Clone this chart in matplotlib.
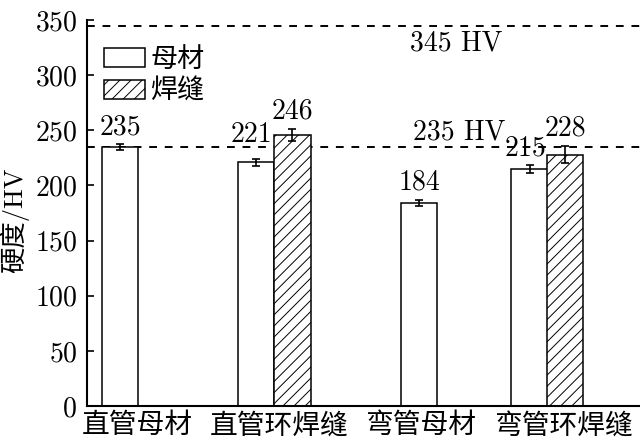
import numpy as np
import matplotlib
matplotlib.use('Agg')
import matplotlib.pyplot as plt

plt.rcParams['font.family'] = ['cmr10', 'Noto Sans CJK SC']
plt.rcParams['axes.formatter.use_mathtext'] = True
plt.rcParams['hatch.linewidth'] = 0.7

# data
categories = ['直管母材', '直管环焊缝', '弯管母材', '弯管环焊缝']
base_vals = [235, 221, 184, 215]
base_err = [2.5, 3, 2.5, 3.5]
weld_cats = ['直管环焊缝', '弯管环焊缝']
weld_vals = [246, 228]
weld_err = [5.5, 8]
ref_vals = [345, 235]
ref_labels = ['345 HV', '235 HV']

# layout: tick labels sit at 0..3, the bars in the original are placed by hand
base_x = [-0.12, 0.838, 1.986, 2.764]
weld_x = [1.095, 3.014]
w = 0.254
base_lbl_off = [(0, 14), (-3, 19.5), (0, 15), (-3, 15)]
weld_lbl_off = [(0, 16.5), (0, 19)]
ref_txt_pos = [(2.246, 329), (2.27, 248.5)]

fig = plt.figure(figsize=(6.4, 4.47), dpi=100)
ax = fig.add_axes([87/640, 41/447, 553/640, 386/447])

ax.bar(base_x, base_vals, w, color='white', edgecolor='black', lw=1.1,
       label='母材', zorder=2)
ax.bar(weld_x, weld_vals, w, color='white', edgecolor='black', lw=1.1,
       hatch='///', label='焊缝', zorder=2)
ax.errorbar(base_x, base_vals, yerr=base_err, fmt='none', ecolor='black',
            elinewidth=1.2, capsize=3, capthick=1.2, zorder=3)
ax.errorbar(weld_x, weld_vals, yerr=weld_err, fmt='none', ecolor='black',
            elinewidth=1.2, capsize=3, capthick=1.2, zorder=3)

for x, v, off in zip(base_x, base_vals, base_lbl_off):
    ax.annotate(str(v), (x, v), xytext=off, textcoords='offset points',
                ha='center', va='center', fontsize=20)
for x, v, off in zip(weld_x, weld_vals, weld_lbl_off):
    ax.annotate(str(v), (x, v), xytext=off, textcoords='offset points',
                ha='center', va='center', fontsize=20)

for v, t, (tx, ty) in zip(ref_vals, ref_labels, ref_txt_pos):
    ax.axhline(v, color='black', lw=1.4, ls=(0, (4, 4)), zorder=1)
    ax.text(tx, ty, t, ha='center', va='center', fontsize=20)

ax.set_xlim(-0.352, 3.542)
ax.set_ylim(0, 350)
ax.set_xticks(range(len(categories)))
ax.set_xticklabels(categories, fontsize=20)
ax.set_yticks(np.arange(0, 351, 50))
ax.tick_params(axis='y', direction='in', length=5, width=1.2, labelsize=20, pad=7)
ax.tick_params(axis='x', length=0, pad=5)
for s in ['top', 'right']:
    ax.spines[s].set_visible(False)
for s in ['left', 'bottom']:
    ax.spines[s].set_linewidth(1.5)

ax.set_ylabel('硬度/HV', fontsize=19)
ax.yaxis.set_label_coords(-0.105, 0.48)

ax.legend(loc='upper left', bbox_to_anchor=(0.031, 0.93), frameon=False,
          fontsize=19.5, handlelength=1.5, handleheight=0.75, handletextpad=0.2,
          labelspacing=0.25, borderpad=0, borderaxespad=0)

fig.savefig('out.png', dpi=100)
